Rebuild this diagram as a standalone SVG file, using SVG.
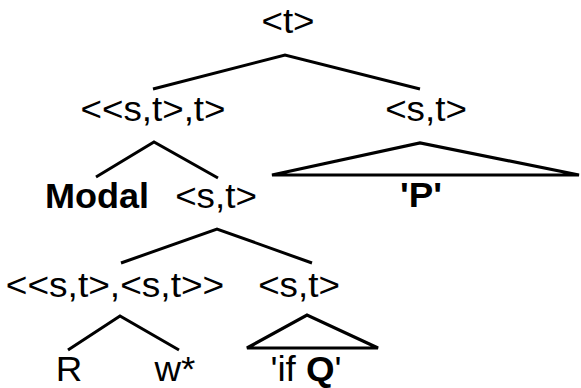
<svg xmlns="http://www.w3.org/2000/svg" width="581" height="388" viewBox="0 0 581 388">
  <style>
    .lbl { font-family: "Liberation Sans", Arial, sans-serif; font-size: 35px; fill: #000; text-anchor: middle; }
    .b { font-weight: bold; }
    .edge { fill: none; stroke: #000; stroke-width: 3; stroke-linejoin: miter; stroke-linecap: butt; }
    .tri { fill: none; stroke: #000; stroke-width: 3.2; stroke-linejoin: miter; }
  </style>
  <rect width="581" height="388" fill="#fff"/>

  <!-- branches -->
  <g id="connectors">
    <polyline class="edge" points="153,89 285,55 420,89"/>
    <polyline class="edge" points="96,177 154,142 218,178"/>
    <polygon class="tri" points="272,175 420,143 579,175"/>
    <polyline class="edge" points="121,263 217,229 312,263"/>
    <polyline class="edge" points="68,350 120,316 179,350"/>
    <polygon class="tri" points="247,348 307,315 378,348"/>
  </g>

  <!-- nodes -->
  <g id="n-root"><text class="lbl" transform="matrix(1.05 0 0 1 288 33)">&lt;t&gt;</text></g>
  <g id="n-modal-phrase"><text class="lbl" transform="matrix(1.05 0 0 1 153 121)">&lt;&lt;s,t&gt;,t&gt;</text></g>
  <g id="n-st-right"><text class="lbl" transform="matrix(1.05 0 0 1 426 121)">&lt;s,t&gt;</text></g>
  <g id="n-modal"><text class="lbl b" transform="matrix(1.03 0 0 1 97 208)">Modal</text></g>
  <g id="n-st-mid"><text class="lbl" transform="matrix(1.05 0 0 1 216 208)">&lt;s,t&gt;</text></g>
  <g id="n-p"><text class="lbl b" transform="matrix(1.05 0 0 1 421 207)">'P'</text></g>
  <g id="n-restrictor"><text class="lbl" transform="matrix(1.06 0 0 1 115 297)">&lt;&lt;s,t&gt;,&lt;s,t&gt;&gt;</text></g>
  <g id="n-st-low"><text class="lbl" transform="matrix(1.05 0 0 1 299 297)">&lt;s,t&gt;</text></g>
  <g id="n-r"><text class="lbl" transform="matrix(1.05 0 0 1 69 381)">R</text></g>
  <g id="n-w"><text class="lbl" transform="matrix(1.05 0 0 1 175 381)">w*</text></g>
  <g id="n-ifq"><text class="lbl" transform="matrix(1.05 0 0 1 306 381)">'if <tspan class="b">Q</tspan>'</text></g>
</svg>
